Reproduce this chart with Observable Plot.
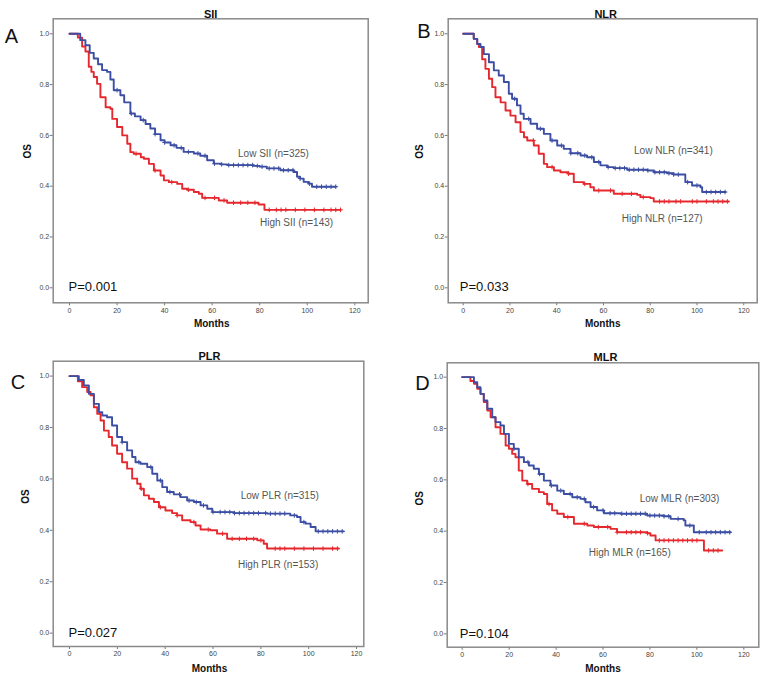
<!DOCTYPE html>
<html><head><meta charset="utf-8">
<script src="https://cdn.jsdelivr.net/npm/d3@7"></script>
<script src="https://cdn.jsdelivr.net/npm/@observablehq/plot@0.6"></script>
<style>
body{margin:0;background:#fff;}
#wrap{position:relative;width:763px;height:681px;overflow:hidden;font-family:"Liberation Sans",Arial,sans-serif;}
.panel{position:absolute;}
</style></head><body><div id="wrap"></div>
<script>
// ---------- data ----------
const monthTicks = [0, 20, 40, 60, 80, 100, 120];
const osTicks = [0.0, 0.2, 0.4, 0.6, 0.8, 1.0];
const panelLetters = ["A", "B", "C", "D"];
const panelTitles = ["SII", "NLR", "PLR", "MLR"];
const pValues = ["P=0.001", "P=0.033", "P=0.027", "P=0.104"];
const lowLabels = ["Low SII (n=325)", "Low NLR (n=341)", "Low PLR (n=315)", "Low MLR (n=303)"];
const highLabels = ["High SII (n=143)", "High NLR (n=127)", "High PLR (n=153)", "High MLR (n=165)"];

// [month, survival] step points
const siiLow = [[0,1],[4.5,0.975],[6.7,0.955],[8.5,0.925],[10.2,0.903],[12,0.88],[13.7,0.857],[15.8,0.85],[17.2,0.82],[18.6,0.778],[21.4,0.758],[23,0.73],[25.6,0.686],[27.5,0.675],[29.9,0.66],[32,0.645],[34,0.627],[36,0.605],[38.3,0.581],[40,0.572],[42.5,0.561],[45,0.551],[48,0.535],[52.3,0.529],[55,0.52],[57.9,0.502],[60.7,0.489],[63.5,0.486],[66.3,0.483],[77.5,0.48],[80,0.477],[83,0.47],[88.7,0.463],[94.3,0.456],[95.7,0.437],[97,0.43],[98.5,0.417],[100.5,0.41],[102,0.398],[112,0.398]];
const siiHigh = [[0,1],[3.5,0.985],[5.3,0.95],[6.7,0.93],[8.1,0.87],[9.2,0.85],[10.2,0.83],[11.6,0.803],[13,0.75],[15.2,0.711],[17.2,0.705],[18,0.665],[20,0.633],[22.2,0.6],[24.3,0.567],[25.6,0.534],[27,0.528],[30,0.514],[31.3,0.508],[33.4,0.488],[35.5,0.462],[38.3,0.442],[39.7,0.423],[41.8,0.416],[45.3,0.409],[47.4,0.39],[49.5,0.386],[52.3,0.377],[54.4,0.37],[55.8,0.354],[62.8,0.344],[66.3,0.335],[79.5,0.328],[82,0.307],[114,0.307]];
const nlrLow = [[0,1],[4.5,0.98],[6,0.96],[7.4,0.948],[8.8,0.92],[11,0.888],[13.1,0.856],[15.2,0.836],[17.4,0.81],[19.5,0.764],[20.9,0.744],[23,0.718],[24.5,0.685],[25.9,0.665],[28.8,0.646],[31.6,0.626],[34.5,0.606],[37.3,0.58],[40.2,0.56],[43,0.547],[45.9,0.53],[50.2,0.521],[53,0.514],[55.9,0.495],[58.7,0.482],[61.6,0.475],[64.4,0.471],[70.1,0.465],[78.7,0.462],[81.5,0.455],[87.2,0.451],[90,0.446],[95,0.416],[97.9,0.403],[101.5,0.396],[102.2,0.377],[112.2,0.377]];
const nlrHigh = [[0,1],[4.5,0.98],[6,0.96],[6.7,0.948],[8.1,0.9],[9.5,0.862],[11,0.823],[12.4,0.79],[13.8,0.75],[16,0.73],[18.1,0.698],[20.2,0.678],[22.4,0.652],[24.5,0.613],[26,0.593],[27.4,0.58],[30.2,0.56],[32.3,0.528],[34.5,0.488],[35.9,0.475],[38.8,0.462],[41.6,0.455],[45,0.449],[47.3,0.416],[51.6,0.409],[54.4,0.396],[55.9,0.383],[64.4,0.37],[74.4,0.366],[75.8,0.357],[80.1,0.353],[81.5,0.34],[113.6,0.34]];
const plrLow = [[0,1],[3.9,0.985],[6,0.964],[8.1,0.931],[10.2,0.892],[12.3,0.86],[13.7,0.847],[15.7,0.84],[17.8,0.808],[19.9,0.763],[22,0.743],[24.1,0.711],[26.2,0.685],[27.6,0.665],[29.7,0.659],[32.5,0.646],[34.6,0.62],[36.7,0.594],[38.8,0.568],[40.8,0.549],[43.6,0.54],[46.4,0.529],[49.2,0.516],[52,0.51],[54.8,0.497],[57.6,0.484],[59.7,0.471],[68.7,0.467],[82.6,0.465],[92.3,0.458],[95.1,0.452],[96.6,0.432],[98.7,0.426],[100.8,0.413],[102.9,0.396],[114.7,0.396]];
const plrHigh = [[0,1],[3.5,0.98],[5.3,0.957],[7.4,0.938],[8.8,0.925],[10.2,0.879],[11.6,0.853],[13,0.827],[14.4,0.788],[16.4,0.763],[17.8,0.73],[19.9,0.698],[22,0.665],[24.1,0.64],[26.2,0.601],[28.3,0.581],[29.7,0.562],[31.1,0.536],[33.2,0.523],[35.3,0.51],[37.4,0.49],[40.1,0.477],[42.9,0.467],[45,0.458],[47.1,0.439],[50.6,0.432],[52.7,0.419],[54.8,0.403],[58.9,0.4],[61.7,0.387],[65.9,0.367],[78.5,0.361],[81.2,0.348],[82.6,0.329],[112.6,0.329]];
const mlrLow = [[0,1],[5,0.98],[6.4,0.961],[7.8,0.935],[9.2,0.909],[10.7,0.877],[12.8,0.844],[14.2,0.825],[16.3,0.812],[17.8,0.779],[19.9,0.74],[22,0.721],[24.1,0.688],[26.3,0.669],[28.4,0.656],[30.5,0.643],[32.7,0.623],[34.8,0.597],[37.6,0.578],[40.5,0.558],[43.3,0.545],[46.9,0.532],[50.4,0.526],[52.5,0.513],[54.7,0.494],[57.5,0.481],[60.4,0.47],[67.5,0.468],[78.8,0.461],[85.9,0.458],[88.8,0.448],[94.4,0.442],[95.1,0.422],[98.7,0.396],[114.3,0.396]];
const mlrHigh = [[0,1],[3.5,0.985],[5,0.974],[6.4,0.955],[7.8,0.935],[9.2,0.903],[10.7,0.87],[12.1,0.844],[14.2,0.805],[16.3,0.779],[18.5,0.734],[19.9,0.721],[21.3,0.701],[22.7,0.688],[24.1,0.636],[25.6,0.597],[27.7,0.584],[29.8,0.565],[32.7,0.552],[34.8,0.545],[36.2,0.506],[38.3,0.481],[40.5,0.468],[43.3,0.455],[47.6,0.429],[53.3,0.422],[56.1,0.416],[63.2,0.409],[66,0.396],[78.8,0.392],[80.2,0.383],[82.4,0.364],[103,0.325],[110.8,0.325]];

// censored times (months)
const siiLowCens = [20,26,31,36,40,44,47,50,54,57,61,64,67,69,71,73,75,77,79,81,84,86,88,90,92,94,97,101,104,106,108,110,112];
const siiHighCens = [28,36,43,50,57,61,65,69,72,75,78,84,87,89,91,95,99,103,107,110,112,114];
const nlrLowCens = [22,28,33,38,42,46,49,52,55,58,62,65,67,69,71,73,75,77,79,82,84,86,88,90,92,96,100,104,106,108,110,112];
const nlrHighCens = [30,38,45,52,58,63,68,72,77,84,86,88,91,93,98,100,104,107,109,111,113];
const plrLowCens = [22,29,34,38,42,46,50,53,56,60,63,65,67,69,71,73,75,77,79,82,84,86,88,90,94,98,104,106,108,110,112,114];
const plrHighCens = [30,38,45,52,58,64,68,71,74,77,80,86,88,90,94,98,102,106,110,112];
const mlrLowCens = [22,28,33,38,42,46,49,52,56,60,63,65,68,70,72,74,76,78,80,82,84,86,88,92,97,101,104,106,108,110,112,114];
const mlrHighCens = [28,37,45,52,58,62,66,70,72,74,76,79,84,86,88,90,92,94,96,98,100,105,107,109];

const lowCurves = [siiLow, nlrLow, plrLow, mlrLow];
const highCurves = [siiHigh, nlrHigh, plrHigh, mlrHigh];
const lowCens = [siiLowCens, nlrLowCens, plrLowCens, mlrLowCens];
const highCens = [siiHighCens, nlrHighCens, plrHighCens, mlrHighCens];

// ---------- layout ----------
const BLUE = "#3b4ea3", RED = "#e5282e";
const FONT = "Liberation Sans, Arial, sans-serif";
const layouts = [
  {left:0, top:0, width:380, height:340, ml:52.7, mr:12.3, mt:18.3, mb:37.7, xd:[-6.86,125.64], yd:[-0.059,1.059],
   title:[0,-8.3], letter:[-41.7,9.7], months:[1,23.7], os:[-25.7,-2.3], low:[85.8,0.529], high:[95.5,0.257], p:[-0.4,0.005]},
  {left:380, top:0, width:383, height:340, ml:67.7, mr:6.3, mt:18.3, mb:37.7, xd:[-6.42,125.75], yd:[-0.059,1.059],
   title:[3,-8.3], letter:[-24.4,5], months:[0,23.7], os:[-28.4,-2], low:[89.9,0.538], high:[85.1,0.272], p:[-1.45,0.005]},
  {left:0, top:330, width:380, height:351, ml:52.7, mr:16.7, mt:30.7, mb:35, xd:[-6.81,123.04], yd:[-0.052,1.058],
   title:[1,-9], letter:[-35.2,13.3], months:[1,25.7], os:[-27.7,0], low:[87.9,0.536], high:[87.2,0.267], p:[-0.4,0.0]},
  {left:380, top:330, width:383, height:351, ml:66.7, mr:4.7, mt:32.3, mb:34.3, xd:[-6.39,126.38], yd:[-0.052,1.056],
   title:[2.5,-9.3], letter:[-24.7,12.7], months:[0,25], os:[-27.4,0.5], low:[92.6,0.526], high:[71.4,0.314], p:[-1.0,0.0]}
];

function survAt(curve, t) {
  let s = curve[0][1];
  for (const [m, v] of curve) { if (m <= t) s = v; else break; }
  return s;
}

const wrap = document.getElementById("wrap");
layouts.forEach((L, i) => {
  const low = lowCurves[i], high = highCurves[i];
  const lowC = lowCens[i].map(t => [t, survAt(low, t)]);
  const highC = highCens[i].map(t => [t, survAt(high, t)]);
  const chart = Plot.plot({
    width: L.width, height: L.height,
    marginLeft: L.ml, marginRight: L.mr, marginTop: L.mt, marginBottom: L.mb,
    style: {fontFamily: FONT, fontSize: "7px", color: "#444", background: "transparent", overflow: "visible"},
    x: {domain: L.xd},
    y: {domain: L.yd},
    marks: [
      Plot.axisX({ticks: monthTicks, tickSize: 3, tickPadding: 2, label: null, fontSize: 7, stroke: "#777"}),
      Plot.axisY({ticks: osTicks, tickFormat: d3.format(".1f"), tickSize: 3, tickPadding: 1, label: null, fontSize: 7, stroke: "#777"}),
      Plot.line(high, {x: d => d[0], y: d => d[1], curve: "step-after", stroke: RED, strokeWidth: 1.9}),
      Plot.dot(highC, {x: d => d[0], y: d => d[1], symbol: "plus", r: 1.6, stroke: RED, strokeWidth: 1}),
      Plot.line(low, {x: d => d[0], y: d => d[1], curve: "step-after", stroke: BLUE, strokeWidth: 1.9}),
      Plot.dot(lowC, {x: d => d[0], y: d => d[1], symbol: "plus", r: 1.6, stroke: BLUE, strokeWidth: 1}),
      Plot.frame({stroke: "#8a8a8a", strokeWidth: 1.5}),
      Plot.text([lowLabels[i]], {x: L.low[0], y: L.low[1], text: d => d, fontSize: 10, fill: "#555", fontFamily: FONT}),
      Plot.text([highLabels[i]], {x: L.high[0], y: L.high[1], text: d => d, fontSize: 10, fill: "#555", fontFamily: FONT}),
      Plot.text([pValues[i]], {x: L.p[0], y: L.p[1], text: d => d, textAnchor: "start", fontSize: 13, fill: "#111", fontFamily: FONT}),
      Plot.text([panelTitles[i]], {frameAnchor: "top", dx: L.title[0], dy: L.title[1], text: d => d, fontSize: 11, fontWeight: "bold", fill: "#111", fontFamily: FONT}),
      Plot.text([panelLetters[i]], {frameAnchor: "top-left", dx: L.letter[0], dy: L.letter[1], text: d => d, textAnchor: "middle", fontSize: 20, fill: "#111", fontFamily: FONT}),
      Plot.text(["Months"], {frameAnchor: "bottom", dx: L.months[0], dy: L.months[1], text: d => d, fontSize: 10, fontWeight: "bold", fill: "#111", fontFamily: FONT}),
      Plot.text(["OS"], {frameAnchor: "left", dx: L.os[0], dy: L.os[1], rotate: -90, text: d => d, fontSize: 10, fontWeight: "bold", fill: "#111", fontFamily: FONT})
    ]
  });
  chart.classList.add("panel");
  chart.style.left = L.left + "px";
  chart.style.top = L.top + "px";
  wrap.appendChild(chart);
});
</script>
</body></html>
